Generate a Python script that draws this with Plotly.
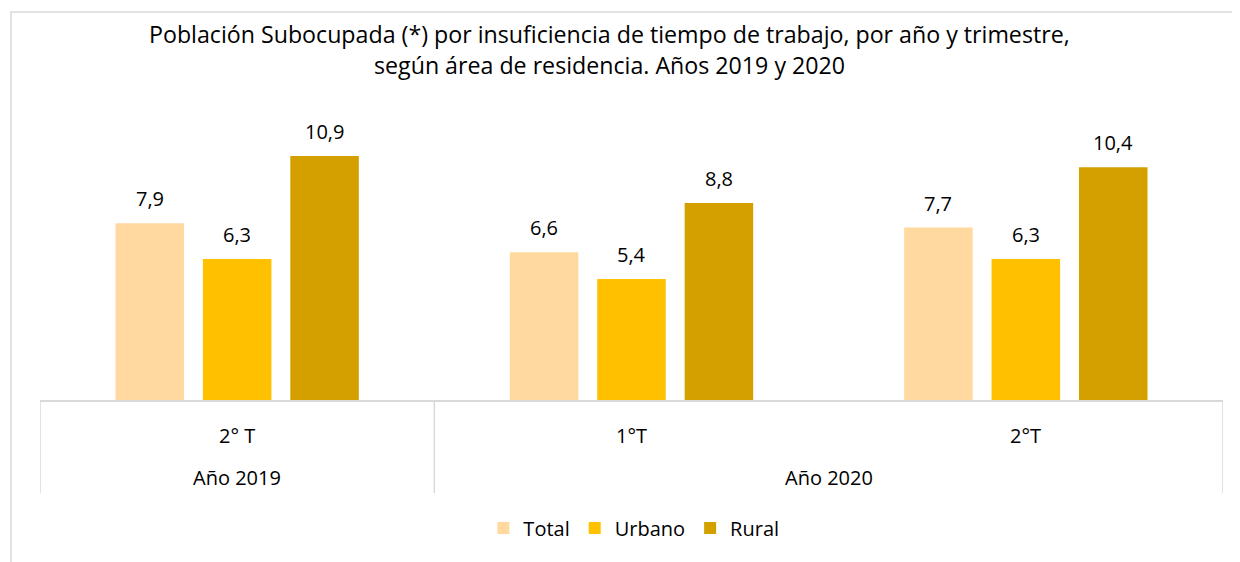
import plotly.graph_objects as go

periods = ["2° T", "1°T", "2°T"]
years = ["Año 2019", "Año 2020"]
year_pos = [0, 1.5]
series = ["Total", "Urbano", "Rural"]
total = [7.9, 6.6, 7.7]
urbano = [6.3, 5.4, 6.3]
rural = [10.9, 8.8, 10.4]
colors = ["#FFD9A0", "#FFC000", "#D3A000"]
title_lines = ["Población Subocupada (*) por insuficiencia de tiempo de trabajo, por año y trimestre,",
               "según área de residencia. Años 2019 y 2020"]

FONT = "Open Sans"
W, H = 1240, 562
ML, MR, MT, MB = 32, 25, 92, 170
BARGAP, GROUPGAP = 0.335, 0.216

fig = go.Figure()
for name, vals, col in zip(series, [total, urbano, rural], colors):
    fig.add_trace(go.Bar(x=periods, y=vals, name=name, marker=dict(color=col, line=dict(width=0))))

fig.update_layout(
    width=W, height=H,
    margin=dict(l=ML, r=MR, t=MT, b=MB),
    paper_bgcolor="white", plot_bgcolor="white",
    barmode="group", bargap=BARGAP, bargroupgap=GROUPGAP,
    font=dict(family=FONT, size=20, color="#000000"),
    xaxis=dict(type="category", showticklabels=False, showline=True, linecolor="#D9D9D9", linewidth=1.5,
               ticks="", showgrid=False, zeroline=False, range=[-0.5, 2.5]),
    yaxis=dict(range=[0, 13.4], visible=False, showgrid=False, zeroline=False),
    legend=dict(orientation="h", x=0.502, xanchor="center", y=-0.427, yanchor="middle",
                font=dict(family=FONT, size=20), itemwidth=30, traceorder="normal"),
    showlegend=True,
)

# value labels above bars
plot_w = W - ML - MR
pitch = plot_w / len(periods) * (1 - BARGAP) / len(series)
for si, vals in enumerate([total, urbano, rural]):
    for x, v in zip(periods, vals):
        fig.add_annotation(x=x, y=v, xref="x", yref="y", text=f"{v:.1f}".replace(".", ","),
                           showarrow=False, xshift=(si - 1) * pitch, yshift=24.5, yanchor="middle",
                           font=dict(family=FONT, size=20, color="#000000"))

# title lines
for txt, yp in zip(title_lines, [1.22, 1.117]):
    fig.add_annotation(x=0.4814, xref="paper", y=yp, yref="paper", text=txt, showarrow=False,
                       xanchor="center", yanchor="middle", font=dict(family=FONT, size=23.2, color="#000000"))

for i, p in enumerate(periods):
    fig.add_annotation(x=i, xref="x", y=-0.117, yref="paper", text=p, showarrow=False,
                       yanchor="middle", font=dict(family=FONT, size=20))
for y, xp in zip(years, year_pos):
    fig.add_annotation(x=xp, xref="x", y=-0.257, yref="paper", text=y, showarrow=False,
                       yanchor="middle", font=dict(family=FONT, size=20))

for xd in [-0.5, 0.5, 2.5]:
    fig.add_shape(type="line", xref="x", yref="paper", x0=xd, x1=xd, y0=0, y1=-0.31,
                  line=dict(color="#D9D9D9", width=1.5))

fig.add_shape(type="rect", xref="paper", yref="paper", x0=-0.0245, x1=1.1, y0=-0.7, y1=1.2933,
              line=dict(color="#D9D9D9", width=1.5), fillcolor="rgba(0,0,0,0)", layer="below")

fig.write_html("out.html")
